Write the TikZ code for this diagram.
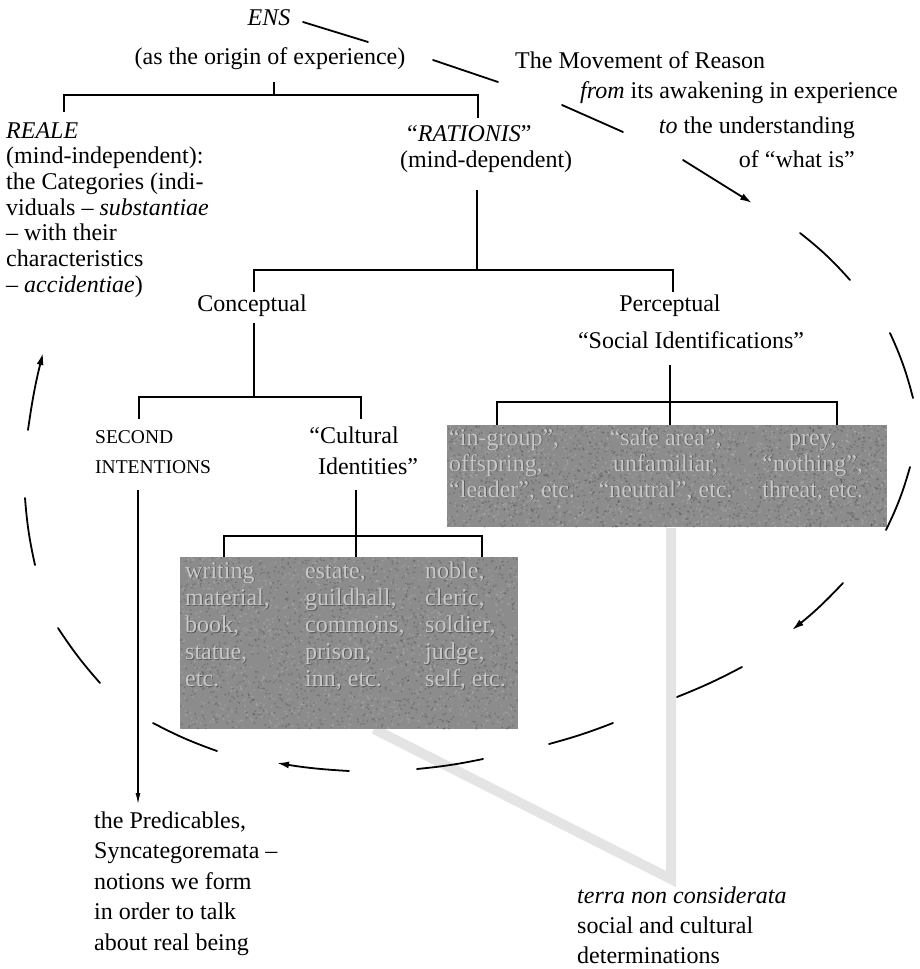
\documentclass[tikz,border=0pt]{standalone}
\usepackage{fontspec}
\setmainfont{Liberation Serif}
\usetikzlibrary{arrows.meta}

\definecolor{boxgrey}{RGB}{140,140,140}
\definecolor{boxtext}{RGB}{200,200,200}
\definecolor{boxshade}{RGB}{88,88,88}
\definecolor{ridgegrey}{RGB}{228,228,228}

% a block of lines whose baseline is that of its first line
\newcommand\block[2]{\vtop{\baselineskip=#1\relax\lineskiplimit=-60pt\relax #2}}
% one centred line inside a block
\newcommand\midline[1]{\hbox to 0pt{\hss#1\hss}}
% light lettering with a dark shadow, as on the shaded panels
\newcommand\emb[1]{\leavevmode\rlap{\kern0.9pt\raisebox{-0.9pt}{\textcolor{boxshade}{#1}}}#1}

% speckle a rectangular panel
\newcommand\grain[4]{%
  \foreach \i in {1,...,1400}{%
    \pgfmathsetmacro\px{#1+#3*rnd}%
    \pgfmathsetmacro\py{#2+#4*rnd}%
    \fill[black, opacity=0.16] (\px,\py) circle[radius=1.1pt];
    \pgfmathsetmacro\qx{#1+#3*rnd}%
    \pgfmathsetmacro\qy{#2+#4*rnd}%
    \fill[white, opacity=0.14] (\qx,\qy) circle[radius=1.1pt];
  }}

\begin{document}
\begin{tikzpicture}[
  x=1pt, y=-1pt,
  txt/.style={inner sep=0pt, font=\fontsize{24}{26}\selectfont},
  lft/.style={txt, anchor=base west},
  rgt/.style={txt, anchor=base east},
  ctr/.style={txt, anchor=base},
  tree/.style={line width=1.3pt},
  loop/.style={line width=1.8pt, line cap=round},
  looparrow/.style={loop, -{Latex[length=12pt,width=7pt]}},
  greybox/.style={fill=boxgrey, draw=none, inner sep=0pt, anchor=north west},
  boxtxt/.style={lft, text=boxtext},
  ridge/.style={line width=10pt, ridgegrey, line join=miter},
]
\useasboundingbox (0,0) rectangle (920,969);
\pgfmathsetseed{4711}

% ---------- grey ridge (drawn underneath) ----------
\coordinate (tnc) at (671,879);
\draw[ridge] (374,729) -- (tnc) -- (671,528);

% ---------- shaded panels ----------
\node[greybox, minimum width=440pt, minimum height=102pt] (pbox) at (447,425) {};
\node[greybox, minimum width=338pt, minimum height=172pt] (cbox) at (180,557) {};
\begin{scope}
  \clip (pbox.north west) rectangle (pbox.south east);
  \grain{447}{425}{440}{102}
\end{scope}
\begin{scope}
  \clip (cbox.north west) rectangle (cbox.south east);
  \grain{180}{557}{338}{172}
\end{scope}

% ---------- texts ----------
\node[ctr] (ens) at (269,25) {\textit{ENS}};
\node[ctr] (origin) at (270,64) {(as the origin of experience)};

\node[lft] (mov1) at (515,68) {The Movement of Reason};
\node[lft] (mov2) at (580,98) {\textit{from} its awakening in experience};
\node[rgt] (mov3) at (855,133) {\textit{to} the understanding};
\node[rgt] (mov4) at (855,167) {of “what is”};

\node[lft] (reale) at (6,138) {\block{25.7pt}{%
  \hbox{\textit{REALE}}
  \hbox{(mind-independent):}
  \hbox{the Categories (indi-}
  \hbox{viduals – \textit{substantiae}}
  \hbox{– with their}
  \hbox{characteristics}
  \hbox{– \textit{accidentiae})}}};

\node[lft] (rat) at (407,141) {“\textit{RATIONIS}”};
\node[lft] (mdep) at (400,167) {(mind-dependent)};

\node[ctr] (conc) at (252,311) {Conceptual};
\node[ctr] (perc) at (670,311) {Perceptual};
\node[ctr] (socid) at (691,348) {“Social Identifications”};

\node[lft, font=\fontsize{19.5}{26}\selectfont] (sec) at (95,443)
  {\block{30pt}{\hbox{SECOND}\hbox{INTENTIONS}}};
\node[ctr] (cult1) at (354,443) {“Cultural};
\node[ctr] (cult2) at (368,474) {Identities”};

% perceptual panel contents
\node[boxtxt] (p1) at (449,445) {\block{26pt}{%
  \hbox{\emb{“in-group”,}}\hbox{\emb{offspring,}}\hbox{\emb{“leader”, etc.}}}};
\node[boxtxt] (p2) at (665,445) {\block{26pt}{%
  \midline{\emb{“safe area”,}}\midline{\emb{unfamiliar,}}\midline{\emb{“neutral”, etc.}}}};
\node[boxtxt] (p3) at (812,445) {\block{26pt}{%
  \midline{\emb{prey,}}\midline{\emb{“nothing”,}}\midline{\emb{threat, etc.}}}};

% cultural panel contents
\node[boxtxt] (c1) at (185,578) {\block{27.2pt}{%
  \hbox{\emb{writing}}\hbox{\emb{material,}}\hbox{\emb{book,}}\hbox{\emb{statue,}}\hbox{\emb{etc.}}}};
\node[boxtxt] (c2) at (305,578) {\block{27.2pt}{%
  \hbox{\emb{estate,}}\hbox{\emb{guildhall,}}\hbox{\emb{commons,}}\hbox{\emb{prison,}}\hbox{\emb{inn, etc.}}}};
\node[boxtxt] (c3) at (425,578) {\block{27.2pt}{%
  \hbox{\emb{noble,}}\hbox{\emb{cleric,}}\hbox{\emb{soldier,}}\hbox{\emb{judge,}}\hbox{\emb{self, etc.}}}};

\node[lft] (pred) at (94,828) {\block{30.5pt}{%
  \hbox{the Predicables,}
  \hbox{Syncategoremata –}
  \hbox{notions we form}
  \hbox{in order to talk}
  \hbox{about real being}}};

\node[lft] (terra) at (577,903) {\block{30pt}{%
  \hbox{\textit{terra non considerata}}
  \hbox{social and cultural}
  \hbox{determinations}}};

% ---------- tree connectors ----------
% ENS
\coordinate (ensStem) at (274,82);
\coordinate (ensBar) at (274,95);
\coordinate (realeTop) at (64,112);
\coordinate (ratTop) at (478,118);
\draw[tree] (ensStem) -- (ensBar);
\draw[tree] (realeTop) -- (realeTop |- ensBar) -- (ratTop |- ensBar) -- (ratTop);

% RATIONIS
\coordinate (ratStem) at (477,190);
\coordinate (ratBar) at (477,270);
\coordinate (concTop) at (254,292);
\coordinate (percTop) at (673,292);
\draw[tree] (ratStem) -- (ratBar);
\draw[tree] (concTop) -- (concTop |- ratBar) -- (percTop |- ratBar) -- (percTop);

% Conceptual
\coordinate (concStem) at (254,323);
\coordinate (concBar) at (254,397);
\coordinate (secTop) at (139,419);
\coordinate (cultTop) at (361,419);
\draw[tree] (concStem) -- (concBar);
\draw[tree] (secTop) -- (secTop |- concBar) -- (cultTop |- concBar) -- (cultTop);

% Cultural Identities
\coordinate (cultStem) at (356,490);
\coordinate (cultBar) at (356,536);
\coordinate (cA) at (224,536);
\coordinate (cC) at (482,536);
\draw[tree] (cultStem) -- (cultBar) -- (cultBar |- cbox.north);
\draw[tree] (cA |- cbox.north) -- (cA) -- (cC) -- (cC |- cbox.north);

% Social Identifications
\coordinate (socStem) at (670,365);
\coordinate (socBar) at (670,402);
\coordinate (sA) at (497,402);
\coordinate (sC) at (837,402);
\draw[tree] (socStem) -- (socBar) -- (socBar |- pbox.north);
\draw[tree] (sA |- pbox.north) -- (sA) -- (sC) -- (sC |- pbox.north);

% Second intentions -> Predicables
\coordinate (secStem) at (138,490);
\coordinate (secEnd) at (138,804);
\draw[line width=1.1pt, -{Latex[length=11pt,width=5pt]}] (secStem) -- (secEnd);

% ---------- the movement of reason (broken loop) ----------
\draw[loop] (303,22) -- (368,42);
\draw[loop] (433,60) -- (498,82);
\draw[loop] (562,105) -- (623,132);
\draw[looparrow] (683,160) -- (752,203);
\draw[loop] (800,233) to[bend left=5] (850,280);
\draw[loop] (890,333) to[bend left=5] (913,398);
\draw[loop] (910,467) to[bend left=5] (886,530);
\draw[looparrow] (843,583) to[bend left=4] (792,630);
\draw[loop] (742,667) to[bend left=3] (677,697);
\draw[loop] (613,723) to[bend left=3] (549,744);
\draw[loop] (483,759) to[bend left=3] (417,769);
\draw[looparrow] (349,771) to[bend left=3] (277,763);
\draw[loop] (217,751) to[bend left=4] (153,723);
\draw[loop] (100,683) to[bend left=4] (58,628);
\draw[loop] (35,565) to[bend left=4] (25,498);
\draw[looparrow] (28,430) to[bend left=3] (43,353);

\end{tikzpicture}
\end{document}
